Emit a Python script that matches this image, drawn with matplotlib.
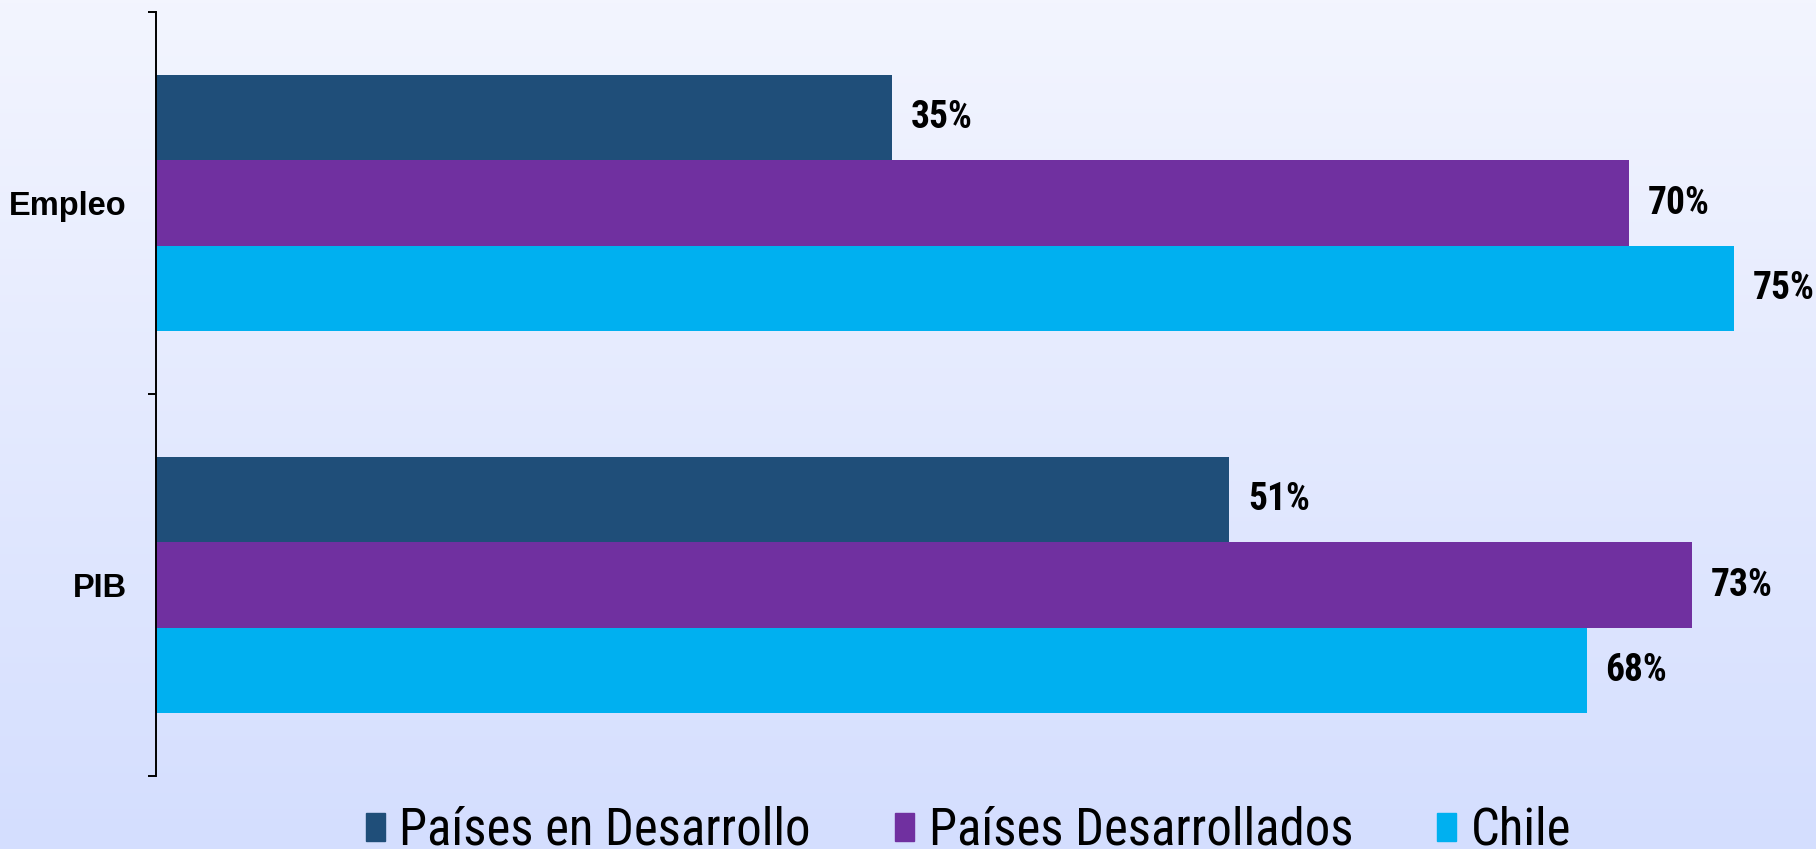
import numpy as np
import matplotlib.pyplot as plt
from matplotlib.patches import Patch

categories = ['Empleo', 'PIB']
series_names = ['Países en Desarrollo', 'Países Desarrollados', 'Chile']
desarrollo = [35, 51]
desarrollados = [70, 73]
chile = [75, 68]
colors = ['#1F4E79', '#7030A0', '#00B0F0']

narrow = ['Roboto Condensed', 'Archivo Narrow', 'Liberation Sans']

fig = plt.figure(figsize=(18.16, 8.49), dpi=100)

# background gradient
bg = fig.add_axes([0, 0, 1, 1], zorder=-1)
top = np.array([243, 245, 254]) / 255
bot = np.array([212, 222, 254]) / 255
t = np.linspace(0, 1, 256)[:, None]
grad = top + (bot - top) * t
bg.imshow(grad[:, None, :], aspect='auto', extent=[0, 1, 0, 1])
bg.axis('off')

ax = fig.add_axes([156 / 1816, 1 - 776 / 849, 1 - 156 / 1816, (776 - 12) / 849])
ax.patch.set_alpha(0)

y = np.arange(len(categories))
h = 0.223
for i, (vals, name) in enumerate(zip([desarrollo, desarrollados, chile], series_names)):
    bars = ax.barh(y + (i - 1) * h, vals, height=h, color=colors[i], label=name)
    ax.bar_label(bars, labels=[f'{v}%' for v in vals], padding=13.5,
                 fontsize=27, fontweight='bold', family=narrow, clip_on=False)

ax.set_xlim(0, 78.9)
ax.set_ylim(1.5, -0.5)
ax.set_yticks(y)
ax.set_yticklabels(categories, fontsize=23.5, fontweight='bold', family='Liberation Sans')
ax.set_yticks([-0.5, 0.5, 1.5], minor=True)
ax.tick_params(axis='y', which='major', length=0, pad=21)
ax.tick_params(axis='y', which='minor', length=6, width=1.4, direction='out')
ax.set_xticks([])
for s in ['top', 'right', 'bottom']:
    ax.spines[s].set_visible(False)
ax.spines['left'].set_linewidth(1.4)

handles = [Patch(color=c) for c in colors]
fig.legend(handles, series_names, loc='lower left', bbox_to_anchor=(366 / 1816, -0.008),
           ncol=3, frameon=False, prop={'family': narrow, 'size': 36.5},
           handlelength=0.38, handleheight=0.47, handletextpad=0.28,
           columnspacing=1.66, borderpad=0, borderaxespad=0)

fig.savefig('out.png', dpi=100)
